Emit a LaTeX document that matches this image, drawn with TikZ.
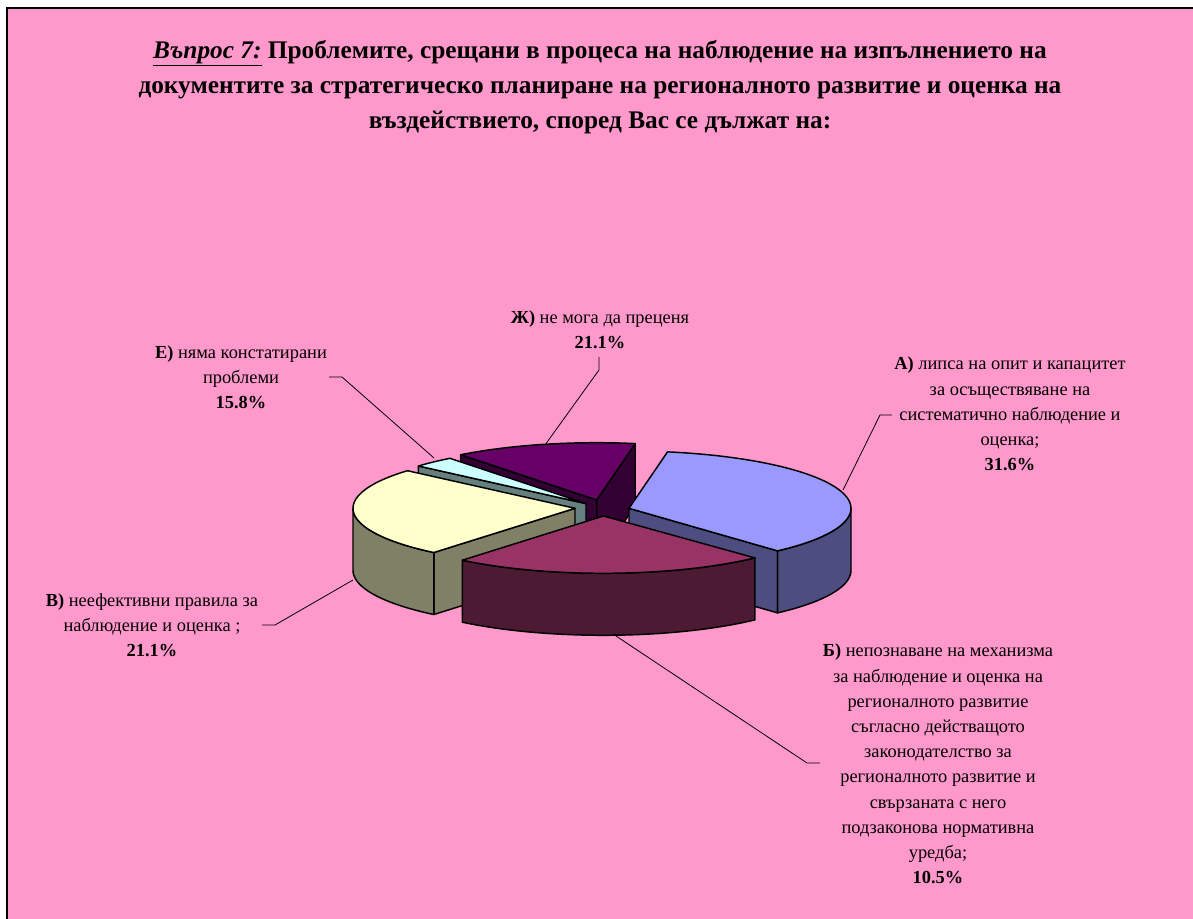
\documentclass[tikz,border=0pt]{standalone}
\usepackage{fontspec}
\setmainfont{Liberation Serif}
\definecolor{bgpink}{HTML}{FF99CC}
\definecolor{aTop}{HTML}{9999FF}\definecolor{aSide}{HTML}{4D4D80}
\definecolor{bTop}{HTML}{993366}\definecolor{bSide}{HTML}{4D1A33}
\definecolor{vTop}{HTML}{FFFFCC}\definecolor{vSide}{HTML}{808066}
\definecolor{eTop}{HTML}{CCFFFF}\definecolor{eSide}{HTML}{668080}
\definecolor{zTop}{HTML}{660066}\definecolor{zSide}{HTML}{330033}
\def\RX{222}\def\RY{57.3}\def\DP{62}
\tikzset{
  pieedge/.style={draw=black,line width=1.1pt,line join=round},
  leader/.style={draw=black,line width=0.6pt},
  lab/.style={align=center,inner sep=0pt,font=\fontsize{13.8}{18.9}\selectfont},
}
\newcommand\topface[5]{%
  \filldraw[fill=#5,pieedge] (#1,#2) -- plot[domain=#3:#4,samples=60] ({#1+\RX*cos(\x)},{#2-\RY*sin(\x)}) -- cycle;}
\newcommand\curvedside[5]{%
  \filldraw[fill=#5,pieedge] plot[domain=#3:#4,samples=60] ({#1+\RX*cos(\x)},{#2-\RY*sin(\x)}) -- plot[domain=#4:#3,samples=60] ({#1+\RX*cos(\x)},{#2+\DP-\RY*sin(\x)}) -- cycle;}
\newcommand\radialface[4]{%
  \filldraw[fill=#4,pieedge] (#1,#2) -- ({#1+\RX*cos(#3)},{#2-\RY*sin(#3)}) -- ++(0,\DP) -- (#1,{#2+\DP}) -- cycle;}
\begin{document}
\begin{tikzpicture}[x=0.75pt,y=-0.75pt]
\useasboundingbox (0,0) rectangle (1193,919);
\fill[white] (0,0) rectangle (1193,919);
\fill[bgpink] (7,8) rectangle (1193,919);
\draw[line width=1.5pt] (7,919) -- (7,8) -- (1193,8);

% title
\node[align=center,inner sep=0pt,font=\bfseries\fontsize{19}{26.5}\selectfont] (title) at (600,87)
 {\textit{\underline{Въпрос 7:}} Проблемите, срещани в процеса на наблюдение на изпълнението на\\
  документите за стратегическо планиране на регионалното развитие и оценка на\\
  въздействието, според Вас се дължат на:};

% slice Zh (back)
\radialface{596.7}{500}{80}{zSide}
\radialface{596.7}{500}{127.8}{zSide}
\topface{596.7}{500}{80}{127.8}{zTop}
% slice E
\radialface{586}{503.6}{139}{eSide}
\topface{586}{503.6}{127.8}{139}{eTop}
% slice V
\radialface{575}{508.3}{230.5}{vSide}
\curvedside{575}{508.3}{180}{230.5}{vSide}
\topface{575}{508.3}{139}{230.5}{vTop}
% slice A
\radialface{629}{508.3}{312}{aSide}
\curvedside{629}{508.3}{312}{360}{aSide}
\topface{629}{508.3}{312}{440}{aTop}
% slice B (front)
\curvedside{603.5}{516}{230.5}{313}{bSide}
\topface{603.5}{516}{230.5}{313}{bTop}

% labels
\node[lab] (labA) at (1010,414) {\textbf{А)} липса на опит и капацитет\\за осъществяване на\\систематично наблюдение и\\оценка;\\\textbf{31.6\%}};
\node[lab] (labB) at (938,764) {\textbf{Б)} непознаване на механизма\\за наблюдение и оценка на\\регионалното развитие\\съгласно действащото\\законодателство за\\регионалното развитие и\\свързаната с него\\подзаконова нормативна\\уредба;\\\textbf{10.5\%}};
\node[lab] (labV) at (152,625) {\textbf{В)} неефективни правила за\\наблюдение и оценка ;\\\textbf{21.1\%}};
\node[lab] (labE) at (241,377) {\textbf{Е)} няма констатирани\\проблеми\\\textbf{15.8\%}};
\node[lab] (labZ) at (600,330) {\textbf{Ж)} не мога да преценя\\\textbf{21.1\%}};

% leader lines
\coordinate (aS) at (892,415); \coordinate (aK) at (880,415); \coordinate (aE) at (843,490);
\coordinate (bS) at (820,763); \coordinate (bK) at (807,763); \coordinate (bE) at (613,634);
\coordinate (vS) at (262,625); \coordinate (vK) at (275,625); \coordinate (vE) at (353,580);
\coordinate (eS) at (329,377); \coordinate (eK) at (342,377); \coordinate (eE) at (434,458);
\coordinate (zS) at (599,357); \coordinate (zK) at (599,370); \coordinate (zE) at (545,445);
\draw[leader] (aS) -- (aK) -- (aE);
\draw[leader] (bS) -- (bK) -- (bE);
\draw[leader] (vS) -- (vK) -- (vE);
\draw[leader] (eS) -- (eK) -- (eE);
\draw[leader] (zS) -- (zK) -- (zE);
\end{tikzpicture}
\end{document}
